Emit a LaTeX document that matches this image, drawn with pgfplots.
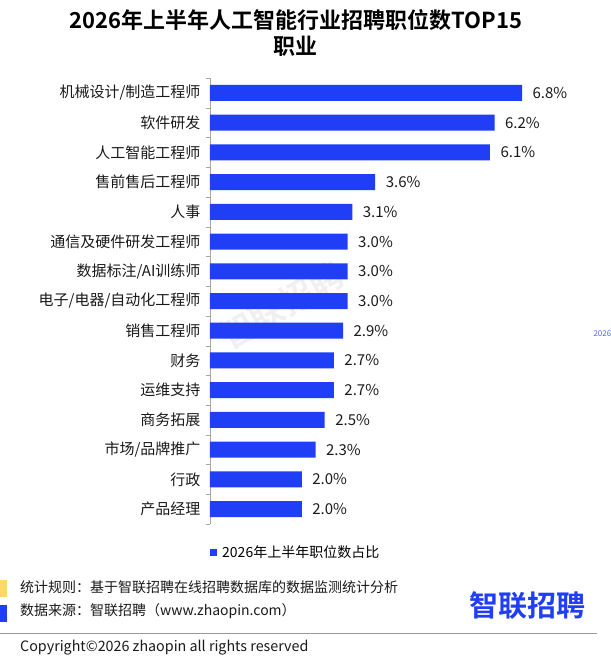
\documentclass[border=0pt]{standalone}
\usepackage{fontspec}
\setmainfont{Noto Sans CJK SC}[BoldFont={Noto Sans CJK SC Bold}]
\usepackage{pgfplots}
\pgfplotsset{compat=1.18}
\definecolor{barblue}{HTML}{1F3EF5}
\definecolor{noteyellow}{HTML}{FFD966}
\begin{document}
\begin{tikzpicture}
\path[use as bounding box] (0,0) rectangle (611pt,-665pt);
\node[rotate=30, text=gray!12, font=\bfseries\fontsize{34}{34}\selectfont] at (282pt,-305pt) {智联招聘};
\node[font=\bfseries\fontsize{22}{26}\selectfont, align=center, anchor=north] at (296pt,-6pt) {2026年上半年人工智能行业招聘职位数TOP15\\职业};
\begin{axis}[
 at={(210pt,-524pt)}, anchor=south west,
 scale only axis, width=367.2pt, height=446pt,
 xbar, bar width=16pt,
 xmin=0, xmax=8, ymin=-0.5, ymax=14.5, y dir=reverse,
 axis x line=none, axis y line*=left,
 axis line style={draw=gray!70},
 ytick={0,...,14},
 yticklabels={机械设计/制造工程师,软件研发,人工智能工程师,售前售后工程师,人事,通信及硬件研发工程师,数据标注/AI训练师,电子/电器/自动化工程师,销售工程师,财务,运维支持,商务拓展,市场/品牌推广,行政,产品经理},
 yticklabel style={font=\fontsize{15}{15}\selectfont, text=black!90, xshift=-6pt},
 major tick length=0pt,
 minor ytick={-0.5,0.5,...,14.5},
 minor tick length=4pt,
 tick align=outside,
 minor tick style={draw=gray!70},
 nodes near coords={\pgfmathprintnumber[fixed,fixed zerofill,precision=1,assume math mode=true]{\pgfplotspointmeta}\%},
 every node near coord/.append style={font=\fontsize{15}{15}\selectfont, text=black!90, xshift=7pt},
 legend style={at={(0,-0.064)}, anchor=west, draw=none, fill=none, font=\fontsize{14}{14}\selectfont, inner sep=0pt},
 legend image code/.code={\fill[barblue] (0pt,-3.5pt) rectangle (7pt,3.5pt);},
 legend style={/tikz/every even column/.append style={column sep=0pt}},
 legend entries={\hspace{3pt}2026年上半年职位数占比},
 clip=false,
]
\addplot[fill=barblue, draw=none] coordinates {
(6.8,0) (6.2,1) (6.1,2) (3.6,3) (3.1,4) (3.0,5) (3.0,6) (3.0,7) (2.9,8) (2.7,9) (2.7,10) (2.5,11) (2.3,12) (2.0,13) (2.0,14)};
\end{axis}
\node[anchor=west, font=\fontsize{8}{8}\selectfont, text=barblue!80] at (590pt,-333pt) {2026年上半年};
\fill[noteyellow] (0pt,-580pt) rectangle (7pt,-597pt);
\fill[barblue] (0pt,-605pt) rectangle (7pt,-622pt);
\node[anchor=west, font=\fontsize{14}{14}\selectfont, text=black!90, inner sep=0pt] at (20pt,-587pt) {统计规则：基于智联招聘在线招聘数据库的数据监测统计分析};
\node[anchor=west, font=\fontsize{14}{14}\selectfont, text=black!90, inner sep=0pt] at (20pt,-611pt) {数据来源：智联招聘（www.zhaopin.com）};
\node[anchor=center, font=\bfseries\fontsize{29}{29}\selectfont, text=barblue, inner sep=0pt] at (527pt,-606pt) {智联招聘};
\draw[gray!80, line width=1pt] (0pt,-633pt) -- (597pt,-633pt);
\node[anchor=west, font=\fontsize{14.3}{14.3}\selectfont, text=black!90, inner sep=0pt] at (20pt,-648pt) {Copyright©2026 zhaopin all rights reserved};
\end{tikzpicture}
\end{document}
